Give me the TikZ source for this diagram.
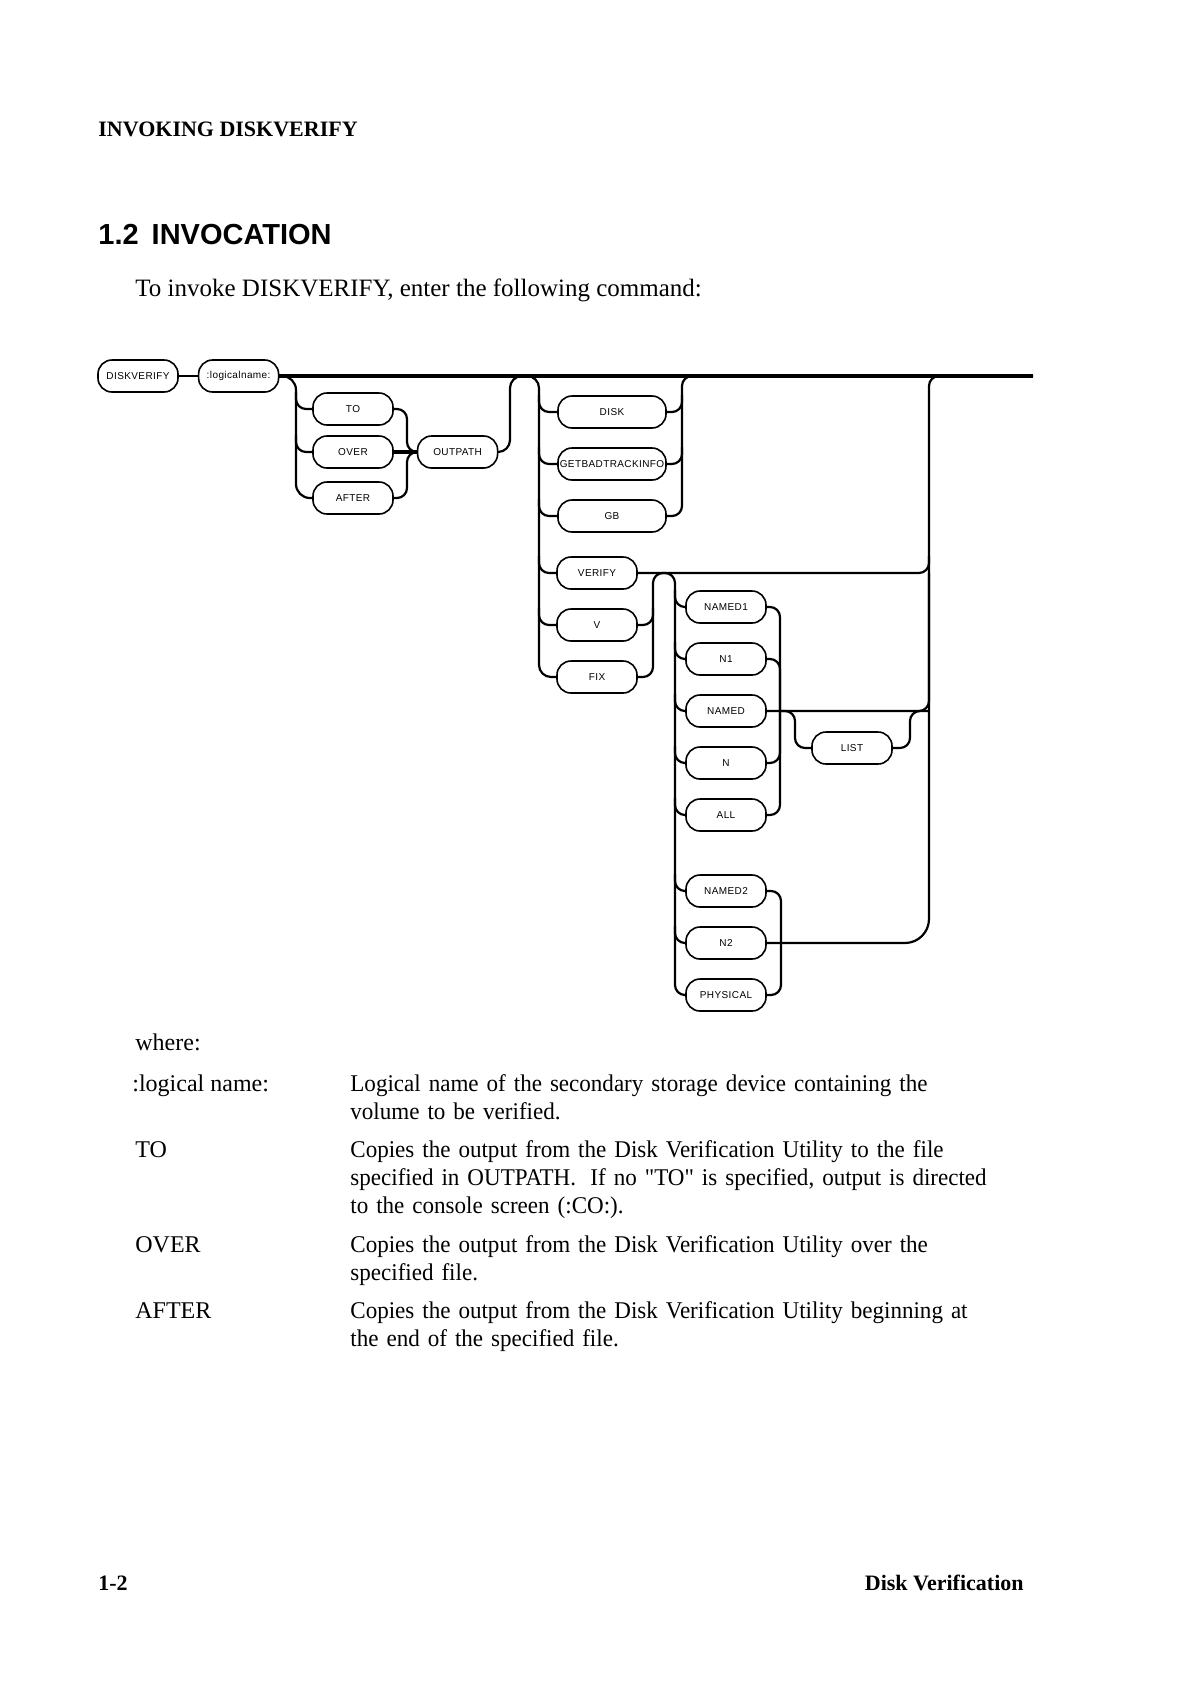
\documentclass[tikz,border=0pt]{standalone}
\usepackage{fontspec}
\setmainfont{Liberation Serif}[Ligatures=TeXOff]
\setsansfont{Liberation Sans}
\newfontfamily\descfont{Liberation Serif}[FakeStretch=0.96, Ligatures=TeXOff]
\newfontfamily\boxfont{Liberation Sans}[LetterSpace=4]
\usetikzlibrary{positioning}

\begin{document}
\begin{tikzpicture}[
    x=0.5pt, y=-0.5pt,
    node distance=26pt,
    box/.style={rectangle, draw, line width=0.8pt, fill=white, rounded corners=7pt, minimum width=40pt, minimum height=16pt, inner xsep=0.5pt, inner ysep=1pt, font=\boxfont\fontsize{5}{6}\selectfont},
    widebox/.style={box, minimum width=54pt},
    rail/.style={line width=1.1pt, rounded corners=5pt},
    mainline/.style={line width=1.7pt},
    body/.style={font=\fontsize{12}{14}\selectfont, inner sep=0pt},
    desc/.style={inner sep=0pt, font=\descfont\fontsize{12}{14}\selectfont, anchor=north west, text width=350pt, align=left},
    heavy/.style={font=\bfseries\fontsize{11}{13}\selectfont, inner sep=0pt}
]

% Page
\fill[white] (0,0) rectangle (1190,1683);

% Header and title
\node[heavy, anchor=base west] (header) at (98,136) {INVOKING DISKVERIFY};
\node[anchor=base west, inner sep=0pt, font=\sffamily\bfseries\fontsize{14.5}{17}\selectfont] (title) at (98,244) {1.2\hspace{0.45em}INVOCATION};
\node[anchor=base west, inner sep=0pt, font=\fontsize{12.5}{14}\selectfont] (intro) at (135,296) {To invoke DISKVERIFY, enter the following command:};

% Command line
\node[box] (dv) at (138,376) {DISKVERIFY};
\node[box, right=9.5pt of dv] (ln) {:logicalname:};

% TO / OVER / AFTER
\node[box] (to) at (353,409) {TO};
\node[box, below of=to, node distance=21.5pt] (over) {OVER};
\node[box, below of=over, node distance=23pt] (after) {AFTER};
\node[box, right=11.5pt of over] (outpath) {OUTPATH};

% DISK group
\node[widebox] (disk) at (612,412) {DISK};
\node[widebox, below of=disk] (gbti) {GETBADTRACKINFO};
\node[widebox, below of=gbti] (gb) {GB};
\node[box] (verify) at (597,573) {VERIFY};
\node[box, below of=verify] (v) {V};
\node[box, below of=v] (fix) {FIX};

% NAMED group
\node[box] (named1) at (726,607) {NAMED1};
\node[box, below of=named1] (n1) {N1};
\node[box, below of=n1] (named) {NAMED};
\node[box, below of=named] (n) {N};
\node[box, below of=n] (all) {ALL};
\node[box] (list) at (852,748) {LIST};
\node[box] (named2) at (726,891) {NAMED2};
\node[box, below of=named2] (n2) {N2};
\node[box, below of=n2] (physical) {PHYSICAL};

% Rail points
\coordinate (r1) at (296,376);
\coordinate (j1) at (407,452);
\coordinate (h1) at (510,376);
\coordinate (r2) at (539,376);
\coordinate (r2r) at (682,376);
\coordinate (h2) at (653,573);
\coordinate (r3) at (675,573);
\coordinate (r3r) at (780,711);
\coordinate (l1) at (795,711);
\coordinate (l2) at (910,711);
\coordinate (r4r) at (781,943);
\coordinate (rbig) at (929,376);
\coordinate (exit) at (1033,376);

% Main line
\draw[rail] (dv) -- (ln);
\draw[mainline] (ln.east) -- (exit);

% TO / OVER / AFTER branch
\draw[rail, rounded corners=7pt] (ln.east) -| (r1 |- after.west) -- (after.west);
\foreach \bx in {to, over} \draw[rail] (r1 |- \bx.north) |- (\bx.west);
\draw[rail] (to.east) -| (j1) -- (outpath.west);
\draw[rail] (after.east) -| (j1) -- (outpath.west);
\draw[mainline] (over) -- (outpath);

% over the main line into the DISK group
\draw[rail, rounded corners=6pt] (outpath.east) -| (h1) -| (r2 |- fix.west) -- (fix.west);
\foreach \bx in {disk, gbti, gb, verify, v} \draw[rail] (r2 |- \bx.north) |- (\bx.west);
\foreach \bx in {disk, gbti} \draw[rail] (\bx.east) -| (r2r |- \bx.north);
\draw[rail] (gb.east) -| (r2r) -- (rbig);
\draw[rail] (verify.east) -| (rbig |- verify.north);

% over VERIFY into the NAMED group
\draw[rail] (fix.east) -| (h2) -| (r3 |- physical.west) -- (physical.west);
\draw[rail] (v.east) -| (h2 |- v.north);
\foreach \bx in {named1, n1, named, n, all, named2, n2} \draw[rail] (r3 |- \bx.north) |- (\bx.west);
\foreach \bx in {named1, n1, n, all} \draw[rail] (\bx.east) -| (r3r);
\draw[rail] (named.east) -| (rbig |- verify.east);

% LIST loop
\draw[rail] (r3r) -| (l1 |- list.west) -- (list.west);
\draw[rail] (list.east) -| (l2) -- (rbig |- l2);

% NAMED2 / N2 / PHYSICAL
\foreach \bx in {named2, physical} \draw[rail] (\bx.east) -| (r4r);
\draw[rail, rounded corners=12pt] (n2.east) -| (rbig |- list.west);
\draw[rail] (rbig |- list.west) |- (exit);

% Parameter list
\node[body, anchor=base west] (where) at (135,1050) {where:};
\node[body, anchor=base west] (tlname) at (132,1091) {:logical name:};
\node[body, anchor=base west] (tto) at (135,1157) {TO};
\node[body, anchor=base west] (tover) at (135,1252) {OVER};
\node[body, anchor=base west] (tafter) at (135,1318) {AFTER};

\node[desc] (dlname) at (350,1071.4) {\strut Logical name of the secondary storage device containing the\\volume to be verified.};
\node[desc] (dto) at (350,1137.4) {\strut Copies the output from the Disk Verification Utility to the file\\specified in OUTPATH.\hspace{0.6em}If no "TO" is specified, output is directed\\to the console screen (:CO:).};
\node[desc] (dover) at (350,1232.4) {\strut Copies the output from the Disk Verification Utility over the\\specified file.};
\node[desc] (dafter) at (350,1298.4) {\strut Copies the output from the Disk Verification Utility beginning at\\the end of the specified file.};

% Footer
\node[heavy, anchor=base west] (pnum) at (98,1590) {1-2};
\node[heavy, anchor=base east] (chap) at (1024,1590) {Disk Verification};

\end{tikzpicture}
\end{document}
